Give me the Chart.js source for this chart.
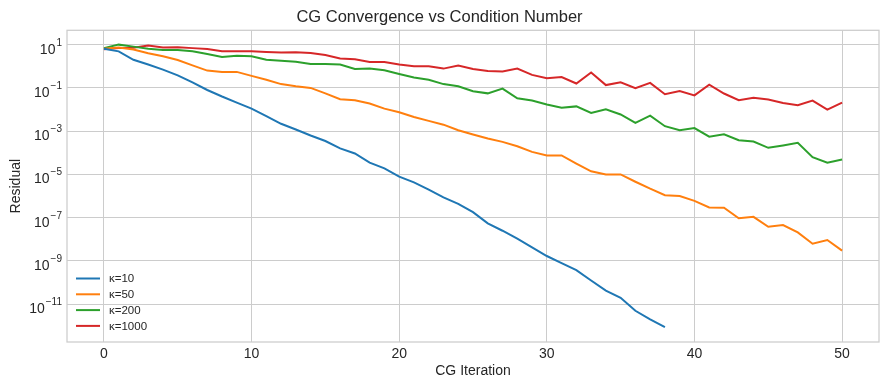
<!DOCTYPE html>
<html lang="en">
<head>
    <meta charset="UTF-8">
    <title>CG Convergence vs Condition Number</title>
    <script src="https://cdn.jsdelivr.net/npm/chart.js"></script>
    <style>
        body { margin: 0; background: #fff; }
    </style>
</head>
<body>
    <canvas id="grafica" width="889" height="390"></canvas>

    <script>
        // iteraciones (eje x)
        var iteraciones = [0, 1, 2, 3, 4, 5, 6, 7, 8, 9, 10, 11, 12, 13, 14, 15, 16, 17, 18, 19, 20,
            21, 22, 23, 24, 25, 26, 27, 28, 29, 30, 31, 32, 33, 34, 35, 36, 37, 38, 39, 40,
            41, 42, 43, 44, 45, 46, 47, 48, 49, 50];

        var etiquetas = ['κ=10', 'κ=50', 'κ=200', 'κ=1000'];

        // residuos
        var k10 = [6.5, 4.9, 2.0, 1.2, 0.7, 0.38, 0.18, 0.08, 0.04, 0.021,
            0.011, 0.005, 0.0022, 0.0012, 6.3e-4, 3.5e-4, 1.6e-4, 9.3e-5, 3.5e-5, 1.9e-5,
            7.9e-6, 4.3e-6, 2e-6, 8.7e-7, 4.4e-7, 1.8e-7, 5.5e-8, 2.5e-8, 1.07e-8, 4.3e-9,
            1.7e-9, 7.9e-10, 3.8e-10, 1.25e-10, 4.3e-11, 2e-11, 5e-12, 2e-12, 8.7e-13];
        var k50 = [6.5, 7.3, 6.0, 4.0, 2.9, 1.95, 1.1, 0.63, 0.55, 0.55,
            0.36, 0.24, 0.15, 0.12, 0.1, 0.056, 0.03, 0.027, 0.019, 0.011,
            0.0075, 0.0045, 0.003, 0.002, 0.0011, 7e-4, 4.6e-4, 3.2e-4, 2e-4, 1.1e-4,
            7.6e-5, 7.6e-5, 3.2e-5, 1.4e-5, 1e-5, 1e-5, 4.6e-6, 2.2e-6, 1.1e-6, 1e-6,
            6e-7, 3e-7, 2.9e-7, 9.5e-8, 1.1e-7, 3.8e-8, 4.6e-8, 2.1e-8, 6.3e-9, 9.3e-9, 3e-9];
        var k200 = [6.9, 10, 8.1, 6.5, 5.6, 5.6, 4.9, 3.7, 2.7, 3.1,
            2.9, 2.0, 1.8, 1.6, 1.27, 1.27, 1.2, 0.75, 0.78, 0.65,
            0.44, 0.3, 0.24, 0.15, 0.12, 0.07, 0.056, 0.093, 0.033, 0.026,
            0.017, 0.012, 0.014, 0.0069, 0.0102, 0.0059, 0.0024, 0.0052, 0.0017, 0.0011,
            0.0014, 5.6e-4, 7.2e-4, 3.8e-4, 3.3e-4, 1.7e-4, 2.2e-4, 2.9e-4, 6.3e-5, 3.5e-5, 4.9e-5];
        var k1000 = [6.1, 6.9, 7.1, 9, 7.3, 7.5, 6.9, 6.3, 4.9, 4.9,
            4.9, 4.6, 4.3, 4.5, 4.1, 3.3, 2.3, 2.1, 1.58, 1.58,
            1.2, 1.0, 1.0, 0.78, 1.07, 0.75, 0.6, 0.58, 0.78, 0.4,
            0.28, 0.32, 0.16, 0.52, 0.135, 0.18, 0.096, 0.17, 0.051, 0.071,
            0.045, 0.14, 0.055, 0.027, 0.035, 0.029, 0.02, 0.016, 0.026, 0.01, 0.021];

        var ticksX = [0, 10, 20, 30, 40, 50];
        var ticksY = [1e1, 1e-1, 1e-3, 1e-5, 1e-7, 1e-9, 1e-11];

        var colores = ['#1f77b4', '#ff7f0e', '#2ca02c', '#d62728'];
        var fuente = 'Liberation Sans, Arial, sans-serif';
        var texto = '#262626';
        var gris = '#cccccc';

        function puntos(serie) {
            var p = [];
            for (var i = 0; i < serie.length; i++) {
                p.push({ x: iteraciones[i], y: serie[i] });
            }
            return p;
        }

        // exponente con signo menos tipografico
        function exponente(v) {
            return String(Math.round(Math.log10(v))).replace('-', '\u2212');
        }

        // marco completo del area (como matplotlib)
        var marco = {
            id: 'marco',
            afterDatasetsDraw: function(chart) {
                var a = chart.chartArea, c = chart.ctx;
                c.save();
                c.strokeStyle = gris;
                c.lineWidth = 1.25;
                c.strokeRect(a.left, a.top, a.right - a.left, a.bottom - a.top);
                c.restore();
            }
        };

        // etiquetas 10^n del eje y con exponente elevado
        var potencias = {
            id: 'potencias',
            afterDraw: function(chart) {
                var s = chart.scales.y, c = chart.ctx;
                var derecha = chart.chartArea.left - 5;
                c.save();
                c.fillStyle = texto;
                c.textBaseline = 'alphabetic';
                ticksY.forEach(function(v) {
                    var y = s.getPixelForValue(v);
                    var e = exponente(v);
                    c.font = '10px ' + fuente;
                    var we = c.measureText(e).width;
                    c.textAlign = 'right';
                    c.fillText(e, derecha, y + 1);
                    c.font = '14px ' + fuente;
                    c.fillText('10', derecha - we - 1, y + 9);
                });
                c.restore();
            }
        };

        // leyenda abajo a la izquierda, dentro del grafico
        var leyenda = {
            id: 'leyenda',
            afterDraw: function(chart) {
                var a = chart.chartArea, c = chart.ctx;
                c.save();
                c.font = '11.5px ' + fuente;
                c.textBaseline = 'middle';
                c.textAlign = 'left';
                var y0 = a.bottom - 63.5;
                chart.data.datasets.forEach(function(ds, i) {
                    var y = y0 + i * 15.8;
                    c.strokeStyle = ds.borderColor;
                    c.lineWidth = 2;
                    c.beginPath();
                    c.moveTo(a.left + 9, y);
                    c.lineTo(a.left + 33, y);
                    c.stroke();
                    c.fillStyle = texto;
                    c.fillText(ds.label, a.left + 42, y + 0.5);
                });
                c.restore();
            }
        };

        var datasets = [k10, k50, k200, k1000].map(function(serie, i) {
            return {
                label: etiquetas[i],
                data: puntos(serie),
                borderColor: colores[i],
                backgroundColor: colores[i],
                borderWidth: 2,
                pointRadius: 0,
                tension: 0,
                fill: false
            };
        });

        var ctx = document.getElementById('grafica').getContext('2d');
        var grafica = new Chart(ctx, {
            type: 'line',
            data: { datasets: datasets },
            plugins: [marco, potencias, leyenda],
            options: {
                responsive: false,
                animation: false,
                layout: { padding: { left: 0, right: 10, top: 0, bottom: 0 } },
                plugins: {
                    legend: { display: false },
                    tooltip: { enabled: false },
                    title: {
                        display: true,
                        text: 'CG Convergence vs Condition Number',
                        color: texto,
                        font: { family: fuente, size: 16.5, weight: 'normal' },
                        padding: { top: 7.5, bottom: 3 }
                    }
                },
                scales: {
                    x: {
                        type: 'linear',
                        min: -2.5,
                        max: 52.5,
                        afterBuildTicks: function(s) {
                            s.ticks = ticksX.map(function(v) { return { value: v }; });
                        },
                        afterFit: function(s) { s.height = 48; },
                        grid: { color: gris, lineWidth: 1, drawTicks: false },
                        border: { display: false },
                        ticks: {
                            color: texto,
                            padding: 4,
                            maxRotation: 0,
                            font: { family: fuente, size: 14 }
                        },
                        title: {
                            display: true,
                            text: 'CG Iteration',
                            color: texto,
                            font: { family: fuente, size: 14 },
                            padding: { top: 0, bottom: 10 }
                        }
                    },
                    y: {
                        type: 'logarithmic',
                        min: 1.8e-13,
                        max: 46,
                        afterBuildTicks: function(s) {
                            s.ticks = ticksY.map(function(v) { return { value: v }; });
                        },
                        afterFit: function(s) { s.width = 67; },
                        grid: { color: gris, lineWidth: 1, drawTicks: false },
                        border: { display: false },
                        ticks: { display: false },
                        title: {
                            display: true,
                            text: 'Residual',
                            color: texto,
                            font: { family: fuente, size: 14 },
                            padding: { top: 8, bottom: 0 }
                        }
                    }
                }
            }
        });
    </script>
</body>
</html>
